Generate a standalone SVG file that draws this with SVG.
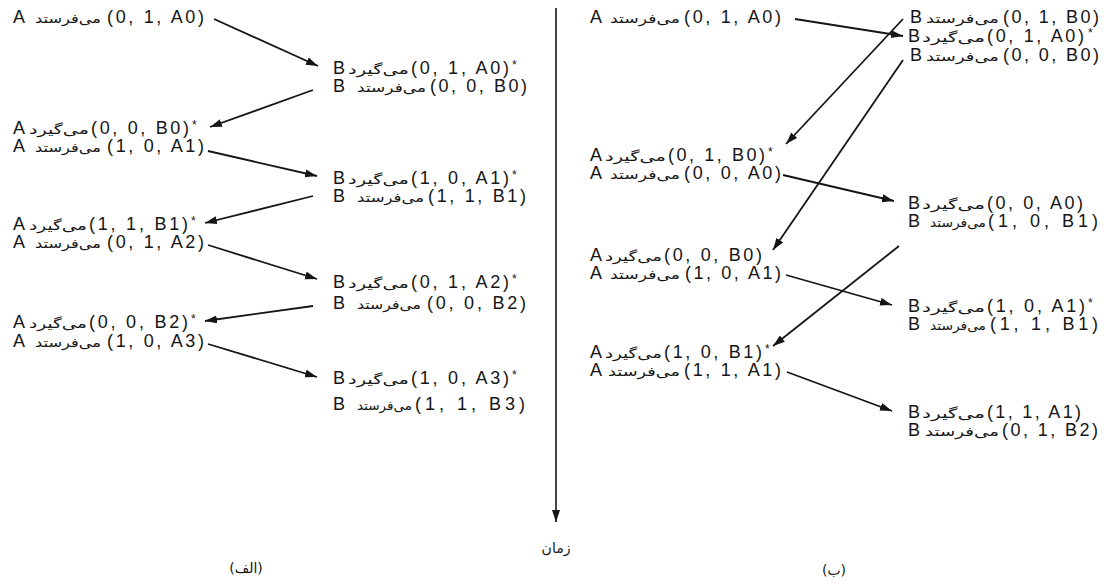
<svg xmlns="http://www.w3.org/2000/svg" width="1104" height="582" viewBox="0 0 1104 582">
<style>
.t{font-family:"Liberation Sans",Arial,sans-serif;font-size:18px;fill:#151515}
.p{font-family:"DejaVu Sans","Noto Sans",sans-serif;font-size:13px;fill:#151515}
.st{font-family:"Liberation Sans",Arial,sans-serif;font-size:12px;fill:#151515}
.c{stroke:#151515;stroke-width:1.8;fill:none;marker-end:url(#ah)}
.lbl{font-family:"DejaVu Sans","Noto Sans",sans-serif;font-size:14px;fill:#151515;text-anchor:middle}
</style>
<defs>
<marker id="ah" markerUnits="userSpaceOnUse" markerWidth="14" markerHeight="10" refX="12" refY="4" orient="auto">
<path d="M0,0 L12,4 L0,8 z" fill="#151515"/>
</marker>
</defs>
<rect width="1104" height="582" fill="#fff"/>

<!-- Left panel -->
<g id="L1"><text class="t" x="13" y="23">A</text><text class="p" x="35" y="23" textLength="66" lengthAdjust="spacingAndGlyphs">می‌فرستد</text><text class="t" x="107" y="23" textLength="97" lengthAdjust="spacing">(0, 1, A0)</text></g>
<g id="L2"><text class="t" x="333" y="74">B</text><text class="p" x="348" y="74" textLength="61" lengthAdjust="spacingAndGlyphs">می‌گیرد</text><text class="t" x="411" y="74" textLength="98" lengthAdjust="spacing">(0, 1, A0)</text><text class="st" x="512" y="69">*</text></g>
<g id="L3"><text class="t" x="333" y="92">B</text><text class="p" x="357" y="92" textLength="69" lengthAdjust="spacingAndGlyphs">می‌فرستد</text><text class="t" x="430" y="92" textLength="97" lengthAdjust="spacing">(0, 0, B0)</text></g>
<g id="L4"><text class="t" x="13" y="134">A</text><text class="p" x="29" y="134" textLength="60" lengthAdjust="spacingAndGlyphs">می‌گیرد</text><text class="t" x="91" y="134" textLength="98" lengthAdjust="spacing">(0, 0, B0)</text><text class="st" x="192" y="129">*</text></g>
<g id="L5"><text class="t" x="13" y="152">A</text><text class="p" x="35" y="152" textLength="66" lengthAdjust="spacingAndGlyphs">می‌فرستد</text><text class="t" x="107" y="152" textLength="97" lengthAdjust="spacing">(1, 0, A1)</text></g>
<g id="L6"><text class="t" x="333" y="184">B</text><text class="p" x="348" y="184" textLength="61" lengthAdjust="spacingAndGlyphs">می‌گیرد</text><text class="t" x="411" y="184" textLength="98" lengthAdjust="spacing">(1, 0, A1)</text><text class="st" x="512" y="179">*</text></g>
<g id="L7"><text class="t" x="333" y="202">B</text><text class="p" x="357" y="202" textLength="67" lengthAdjust="spacingAndGlyphs">می‌فرستد</text><text class="t" x="428" y="202" textLength="98" lengthAdjust="spacing">(1, 1, B1)</text></g>
<g id="L8"><text class="t" x="13" y="230">A</text><text class="p" x="29" y="230" textLength="58" lengthAdjust="spacingAndGlyphs">می‌گیرد</text><text class="t" x="89" y="230" textLength="99" lengthAdjust="spacing">(1, 1, B1)</text><text class="st" x="191" y="225">*</text></g>
<g id="L9"><text class="t" x="13" y="248">A</text><text class="p" x="35" y="248" textLength="66" lengthAdjust="spacingAndGlyphs">می‌فرستد</text><text class="t" x="107" y="248" textLength="97" lengthAdjust="spacing">(0, 1, A2)</text></g>
<g id="L10"><text class="t" x="333" y="288">B</text><text class="p" x="348" y="288" textLength="61" lengthAdjust="spacingAndGlyphs">می‌گیرد</text><text class="t" x="411" y="288" textLength="98" lengthAdjust="spacing">(0, 1, A2)</text><text class="st" x="512" y="283">*</text></g>
<g id="L11"><text class="t" x="333" y="309">B</text><text class="p" x="357" y="309" textLength="64" lengthAdjust="spacingAndGlyphs">می‌فرستد</text><text class="t" x="427" y="309" textLength="99" lengthAdjust="spacing">(0, 0, B2)</text></g>
<g id="L12"><text class="t" x="13" y="328">A</text><text class="p" x="29" y="328" textLength="58" lengthAdjust="spacingAndGlyphs">می‌گیرد</text><text class="t" x="89" y="328" textLength="99" lengthAdjust="spacing">(0, 0, B2)</text><text class="st" x="191" y="323">*</text></g>
<g id="L13"><text class="t" x="13" y="347">A</text><text class="p" x="35" y="347" textLength="66" lengthAdjust="spacingAndGlyphs">می‌فرستد</text><text class="t" x="107" y="347" textLength="97" lengthAdjust="spacing">(1, 0, A3)</text></g>
<g id="L14"><text class="t" x="333" y="384">B</text><text class="p" x="348" y="384" textLength="61" lengthAdjust="spacingAndGlyphs">می‌گیرد</text><text class="t" x="411" y="384" textLength="98" lengthAdjust="spacing">(1, 0, A3)</text><text class="st" x="512" y="379">*</text></g>
<g id="L15"><text class="t" x="333" y="410">B</text><text class="p" x="357" y="410" textLength="55" lengthAdjust="spacingAndGlyphs">می‌فرستد</text><text class="t" x="415" y="410" textLength="110" lengthAdjust="spacing">(1, 1, B3)</text></g>

<!-- Right panel -->
<g id="R1"><text class="t" x="590" y="23">A</text><text class="p" x="610" y="23" textLength="70" lengthAdjust="spacingAndGlyphs">می‌فرستد</text><text class="t" x="684" y="23" textLength="97" lengthAdjust="spacing">(0, 1, A0)</text></g>
<g id="R2"><text class="t" x="910" y="23">B</text><text class="p" x="926" y="23" textLength="73" lengthAdjust="spacingAndGlyphs">می‌فرستد</text><text class="t" x="1003" y="23" textLength="96" lengthAdjust="spacing">(0, 1, B0)</text></g>
<g id="R3"><text class="t" x="908" y="42">B</text><text class="p" x="922" y="42" textLength="63" lengthAdjust="spacingAndGlyphs">می‌گیرد</text><text class="t" x="987" y="42" textLength="97" lengthAdjust="spacing">(0, 1, A0)</text><text class="st" x="1088" y="37">*</text></g>
<g id="R4"><text class="t" x="910" y="61">B</text><text class="p" x="926" y="61" textLength="73" lengthAdjust="spacingAndGlyphs">می‌فرستد</text><text class="t" x="1003" y="61" textLength="96" lengthAdjust="spacing">(0, 0, B0)</text></g>
<g id="R5"><text class="t" x="590" y="161">A</text><text class="p" x="605" y="161" textLength="61" lengthAdjust="spacingAndGlyphs">می‌گیرد</text><text class="t" x="668" y="161" textLength="97" lengthAdjust="spacing">(0, 1, B0)</text><text class="st" x="768" y="156">*</text></g>
<g id="R6"><text class="t" x="590" y="179">A</text><text class="p" x="610" y="179" textLength="70" lengthAdjust="spacingAndGlyphs">می‌فرستد</text><text class="t" x="684" y="179" textLength="97" lengthAdjust="spacing">(0, 0, A0)</text></g>
<g id="R7"><text class="t" x="908" y="209">B</text><text class="p" x="922" y="209" textLength="63" lengthAdjust="spacingAndGlyphs">می‌گیرد</text><text class="t" x="987" y="209" textLength="96" lengthAdjust="spacing">(0, 0, A0)</text></g>
<g id="R8"><text class="t" x="908" y="227">B</text><text class="p" x="930" y="227" textLength="56" lengthAdjust="spacingAndGlyphs">می‌فرستد</text><text class="t" x="988" y="227" textLength="110" lengthAdjust="spacing">(1, 0, B1)</text></g>
<g id="R9"><text class="t" x="590" y="261">A</text><text class="p" x="605" y="261" textLength="57" lengthAdjust="spacingAndGlyphs">می‌گیرد</text><text class="t" x="664" y="261" textLength="98" lengthAdjust="spacing">(0, 0, B0)</text></g>
<g id="R10"><text class="t" x="590" y="279">A</text><text class="p" x="610" y="279" textLength="70" lengthAdjust="spacingAndGlyphs">می‌فرستد</text><text class="t" x="685" y="279" textLength="96" lengthAdjust="spacing">(1, 0, A1)</text></g>
<g id="R11"><text class="t" x="908" y="312">B</text><text class="p" x="922" y="312" textLength="63" lengthAdjust="spacingAndGlyphs">می‌گیرد</text><text class="t" x="987" y="312" textLength="98" lengthAdjust="spacing">(1, 0, A1)</text><text class="st" x="1088" y="307">*</text></g>
<g id="R12"><text class="t" x="908" y="330">B</text><text class="p" x="930" y="330" textLength="56" lengthAdjust="spacingAndGlyphs">می‌فرستد</text><text class="t" x="990" y="330" textLength="108" lengthAdjust="spacing">(1, 1, B1)</text></g>
<g id="R13"><text class="t" x="590" y="358">A</text><text class="p" x="605" y="358" textLength="57" lengthAdjust="spacingAndGlyphs">می‌گیرد</text><text class="t" x="664" y="358" textLength="98" lengthAdjust="spacing">(1, 0, B1)</text><text class="st" x="765" y="353">*</text></g>
<g id="R14"><text class="t" x="590" y="376">A</text><text class="p" x="608" y="376" textLength="72" lengthAdjust="spacingAndGlyphs">می‌فرستد</text><text class="t" x="684" y="376" textLength="97" lengthAdjust="spacing">(1, 1, A1)</text></g>
<g id="R15"><text class="t" x="908" y="418">B</text><text class="p" x="922" y="418" textLength="63" lengthAdjust="spacingAndGlyphs">می‌گیرد</text><text class="t" x="987" y="418" textLength="94" lengthAdjust="spacing">(1, 1, A1)</text></g>
<g id="R16"><text class="t" x="908" y="436">B</text><text class="p" x="925" y="436" textLength="74" lengthAdjust="spacingAndGlyphs">می‌فرستد</text><text class="t" x="1002" y="436" textLength="96" lengthAdjust="spacing">(0, 1, B2)</text></g>

<!-- Connectors -->
<g id="connectors">
<line class="c" x1="214" y1="19" x2="318" y2="66"/>
<line class="c" x1="313" y1="90" x2="210" y2="127"/>
<line class="c" x1="208" y1="151" x2="317" y2="176"/>
<line class="c" x1="313" y1="196" x2="205" y2="223"/>
<line class="c" x1="208" y1="245" x2="317" y2="279"/>
<line class="c" x1="313" y1="306" x2="205" y2="321"/>
<line class="c" x1="208" y1="344" x2="317" y2="377"/>
<line class="c" x1="795" y1="19" x2="903" y2="36"/>
<line class="c" x1="903" y1="19" x2="786" y2="144"/>
<line class="c" x1="783" y1="175" x2="894" y2="201"/>
<line class="c" x1="903" y1="60" x2="773" y2="250"/>
<line class="c" x1="786" y1="275" x2="892" y2="305"/>
<line class="c" x1="899" y1="246" x2="773" y2="346"/>
<line class="c" x1="787" y1="372" x2="892" y2="411"/>
<line class="c" x1="556" y1="8" x2="556" y2="522" style="stroke-width:1.6"/>
</g>

<g id="labels">
<text class="lbl" x="556" y="553">زمان</text>
<text class="lbl" x="246" y="573" direction="rtl">(الف)</text>
<text class="lbl" x="834" y="575" direction="rtl">(ب)</text>
</g>
</svg>
